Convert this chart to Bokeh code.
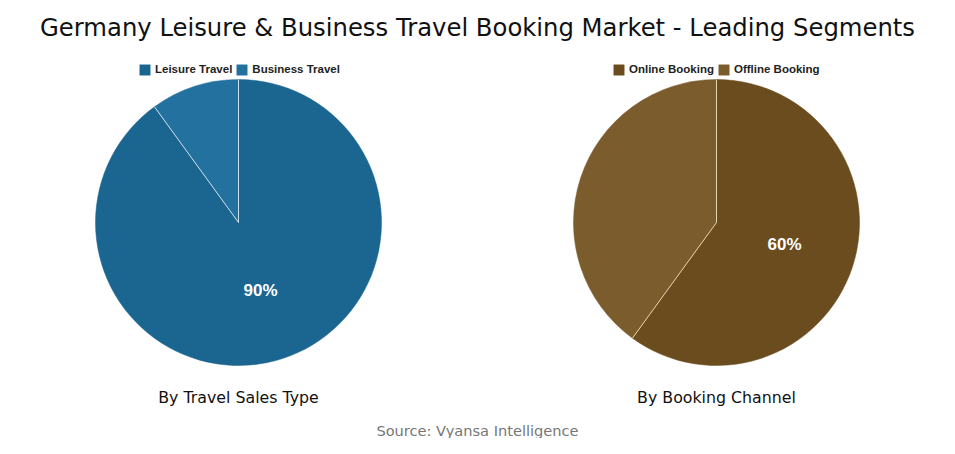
import numpy as np
from bokeh.plotting import figure
from bokeh.models import ColumnDataSource, Range1d, Legend, LegendItem
from bokeh.core.properties import value
from bokeh.embed import file_html
from bokeh.resources import INLINE

# ---- data ----
main_title = "Germany Leisure & Business Travel Booking Market - Leading Segments"
source_text = "Source: Vyansa Intelligence"

sales_type_labels = ["Leisure Travel", "Business Travel"]
sales_type_values = [90, 10]
sales_type_colors = ["#1b6591", "#23719f"]

channel_labels = ["Online Booking", "Offline Booking"]
channel_values = [60, 40]
channel_colors = ["#6b4c1f", "#7b5c2c"]

pie_titles = ["By Travel Sales Type", "By Booking Channel"]

# ---- layout (screen pixel coordinates; y measured from the top) ----
W, H = 939, 438

def py(y_img):
    return H - y_img

p = figure(width=W, height=H, output_backend="svg", toolbar_location=None,
           x_range=Range1d(0, W), y_range=Range1d(0, H),
           min_border=0, border_fill_color="white", background_fill_color="white")
p.axis.visible = False
p.grid.visible = False
p.outline_line_color = None

FONT = "DejaVu Sans"

def draw_pie(cx, cy_img, radius, labels, values, colors, line_color, legend_x, sub_title):
    vals = np.array(values, dtype=float)
    frac = vals / vals.sum()
    cum = np.concatenate([[0.0], np.cumsum(frac)])
    # clockwise from 12 o'clock
    a0 = np.pi / 2 - cum[:-1] * 2 * np.pi
    a1 = np.pi / 2 - cum[1:] * 2 * np.pi
    cy = py(cy_img)
    src = ColumnDataSource(dict(x=[cx] * len(vals), y=[cy] * len(vals),
                                start=a1, end=a0, color=colors, label=labels))
    r = p.wedge(x="x", y="y", radius=radius, radius_units="screen",
                start_angle="start", end_angle="end", direction="anticlock",
                fill_color="color", line_color="color", line_width=0.5, source=src)
    # slice separators (radial lines at slice boundaries)
    sep = ColumnDataSource(dict(x0=[cx] * len(vals), y0=[cy] * len(vals),
                                x1=cx + radius * np.cos(a0), y1=cy + radius * np.sin(a0)))
    p.segment(x0="x0", y0="y0", x1="x1", y1="y1", line_color=line_color,
              line_width=1, source=sep)
    # label for leading segment
    i = int(np.argmax(frac))
    mid = np.pi / 2 - (cum[i] + frac[i] / 2) * 2 * np.pi
    lx = cx + 0.5 * radius * np.cos(mid)
    ly = cy + 0.5 * radius * np.sin(mid)
    p.text(x=[lx], y=[ly], text=[f"{values[i]:.0f}%"], text_align="center",
           text_baseline="middle", text_color="white", text_font_size="17px",
           text_font_style="bold", text_font=value("Liberation Sans"))
    # subtitle
    p.text(x=[cx], y=[py(397)], text=[sub_title], text_align="center",
           text_baseline="middle", text_color="#111111", text_font_size="15.8px",
           text_font=value(FONT))
    items = [LegendItem(label=labels[k], renderers=[r], index=k) for k in range(len(labels))]
    leg = Legend(items=items, orientation="horizontal", location=(legend_x, py(75.5)),
                 glyph_width=13, glyph_height=13, label_height=12, label_standoff=4,
                 spacing=3, padding=0, margin=0, border_line_color=None,
                 background_fill_alpha=0, label_text_font_size="11.5px",
                 label_text_font_style="bold", label_text_font="Liberation Sans",
                 label_text_color="#222222", label_text_baseline="middle")
    p.add_layout(leg, "center")

draw_pie(238, 222, 143, sales_type_labels, sales_type_values, sales_type_colors,
         "#cfe0ec", 138, pie_titles[0])
draw_pie(716, 222, 143, channel_labels, channel_values, channel_colors,
         "#e6d3a8", 612, pie_titles[1])

p.text(x=[477], y=[py(27)], text=[main_title], text_align="center",
       text_baseline="middle", text_color="#111111", text_font_size="24.3px",
       text_font=value(FONT))
p.text(x=[477], y=[py(430)], text=[source_text], text_align="center",
       text_baseline="middle", text_color="#777777", text_font_size="14.6px",
       text_font=value(FONT))

open("out.html", "w").write(file_html(p, INLINE))
